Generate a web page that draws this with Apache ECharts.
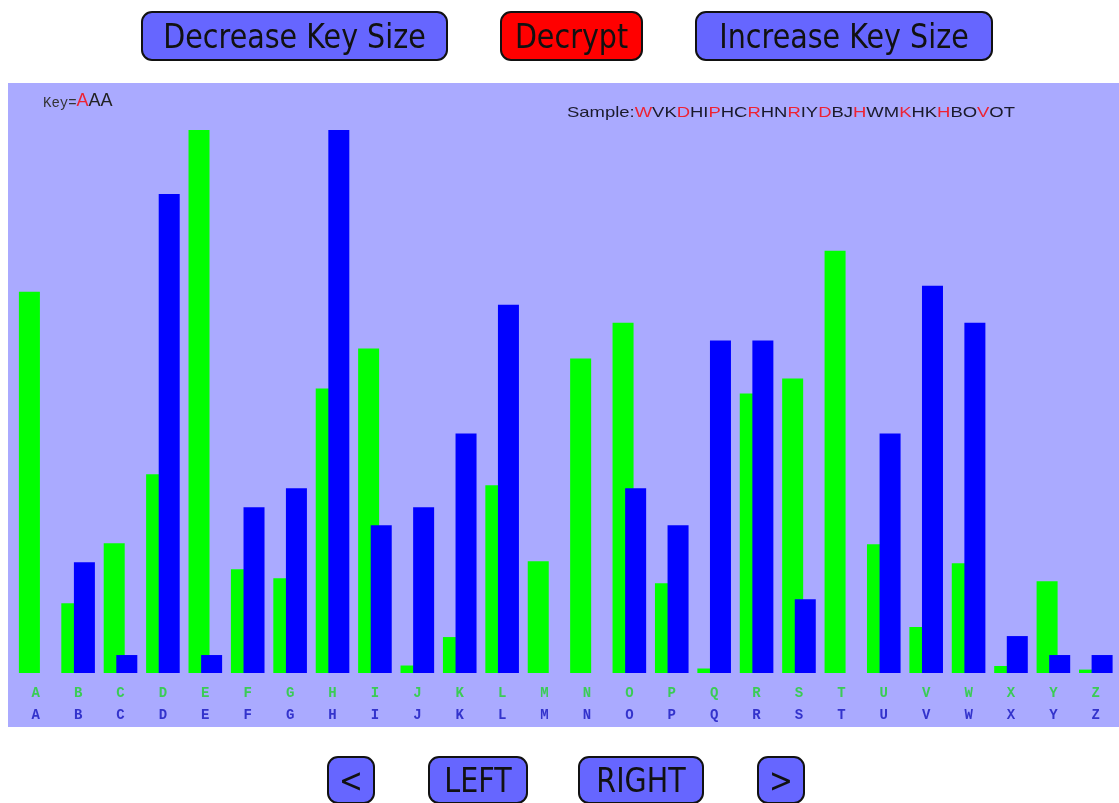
<!DOCTYPE html>
<html>
<head>
<meta charset="utf-8">
<script src="https://cdn.jsdelivr.net/npm/echarts@6/dist/echarts.min.js"></script>
<style>
  html, body { margin: 0; padding: 0; background: #fff; }
  #main { width: 1119px; height: 803px; }
</style>
</head>
<body>
<div id="main"></div>
<script>
// letters on the x axis
const letters = "ABCDEFGHIJKLMNOPQRSTUVWXYZ".split("");
// green: reference letter frequency (relative units)
const expected = [382, 70, 130, 199, 544, 104, 95, 285, 325, 7.5, 36, 188, 112,
  315, 351, 90, 4.5, 280, 295, 423, 129, 46, 110, 7, 92, 3.4];
// blue: frequency in the shifted sample (relative units)
const observed = [0, 111, 18, 480, 18, 166, 185, 544, 148, 166, 240, 369, 0,
  0, 185, 148, 333, 333, 74, 0, 240, 388, 351, 37, 18, 18];
const keyText = "AAA";
const keyPos = 0; // highlighted key letter
const sample = "WVKDHIPHCRHNRIYDBJHWMKHKHBOVOT";

const chart = echarts.init(document.getElementById("main"));

// sample text: every key-length-th letter in red
let sampleRich = "{k|Sample:}";
sample.split("").forEach((c, i) => {
  sampleRich += (i % keyText.length === keyPos ? "{r|" : "{k|") + c + "}";
});
let keyRich = "{m|Key=}";
keyText.split("").forEach((c, i) => {
  keyRich += (i === keyPos ? "{r|" : "{k|") + c + "}";
});

const button = (x, y, w, h, label, fill) => ({
  type: "group",
  children: [
    {
      type: "rect",
      shape: { x: x, y: y, width: w, height: h, r: 10 },
      style: { fill: fill, stroke: "#111", lineWidth: 2 },
    },
    {
      type: "text",
      x: x + w / 2,
      y: y + h / 2 + 3.5,
      scaleX: 0.84,
      style: {
        text: label,
        fill: "#111",
        fontSize: 34,
        fontFamily: "DejaVu Sans",
        textAlign: "center",
        textVerticalAlign: "middle",
      },
    },
  ],
});

const option = {
  animation: false,
  backgroundColor: "#fff",
  graphic: [
    {
      type: "rect",
      z: -10,
      shape: { x: 8, y: 83, width: 1111, height: 644 },
      style: { fill: "#aaaaff" },
    },
    button(142, 12, 305, 48, "Decrease Key Size", "#6666ff"),
    button(501, 12, 141, 48, "Decrypt", "#ff0000"),
    button(696, 12, 296, 48, "Increase Key Size", "#6666ff"),
    button(328, 757, 46, 46, "<", "#6666ff"),
    button(429, 757, 98, 46, "LEFT", "#6666ff"),
    button(579, 757, 124, 46, "RIGHT", "#6666ff"),
    button(758, 757, 46, 46, ">", "#6666ff"),
    {
      type: "text",
      x: 43,
      y: 110,
      style: {
        text: keyRich,
        textVerticalAlign: "bottom",
        rich: {
          m: { fontSize: 14, fontFamily: "Liberation Mono", fill: "#333", lineHeight: 20, verticalAlign: "bottom" },
          r: { fontSize: 18, fontFamily: "Liberation Sans", fill: "#ee2233", lineHeight: 20, verticalAlign: "bottom" },
          k: { fontSize: 18, fontFamily: "Liberation Sans", fill: "#222", lineHeight: 20, verticalAlign: "bottom" },
        },
      },
    },
    {
      type: "text",
      x: 567,
      y: 113,
      scaleX: 1.23,
      style: {
        text: sampleRich,
        textVerticalAlign: "middle",
        rich: {
          k: { fontSize: 15, fontFamily: "Liberation Sans", fill: "#1a1a2a" },
          r: { fontSize: 15, fontFamily: "Liberation Sans", fill: "#ee2233" },
        },
      },
    },
  ],
  grid: { left: 14.5, right: 2, top: 130, bottom: 130 },
  xAxis: {
    type: "category",
    data: letters,
    axisLine: { show: false },
    axisTick: { show: false },
    axisLabel: {
      interval: 0,
      margin: 9,
      formatter: (v) => "{g|" + v + "}\n{b|" + v + "}",
      rich: {
        g: { color: "#3acc55", fontFamily: "Liberation Mono", fontSize: 14, fontWeight: "bold", lineHeight: 22 },
        b: { color: "#3333cc", fontFamily: "Liberation Mono", fontSize: 14, fontWeight: "bold", lineHeight: 22 },
      },
    },
  },
  yAxis: {
    type: "value",
    min: 0,
    max: 544,
    show: false,
  },
  series: [
    {
      name: "expected",
      type: "bar",
      data: expected,
      barWidth: 21,
      barGap: "-40%",
      itemStyle: { color: "#00ff00" },
    },
    {
      name: "observed",
      type: "bar",
      data: observed,
      barWidth: 21,
      barGap: "-40%",
      itemStyle: { color: "#0000ff" },
    },
  ],
};

chart.setOption(option);
</script>
</body>
</html>
